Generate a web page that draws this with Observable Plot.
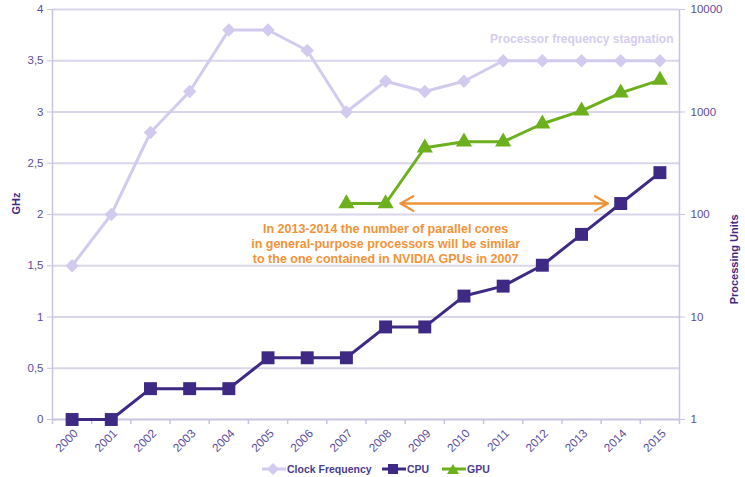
<!DOCTYPE html>
<html><head><meta charset="utf-8">
<script src="https://cdn.jsdelivr.net/npm/d3@7"></script>
<script src="https://cdn.jsdelivr.net/npm/@observablehq/plot@0.6"></script>
<style>
body{margin:0;background:#fff;font-family:"Liberation Sans",Arial,sans-serif;}
#legend{height:22px;position:relative;font-size:10.5px;font-weight:bold;color:#4b3b8f;}
#legend .item{position:absolute;top:6px;display:flex;align-items:center;gap:1px;}
</style></head><body><div id="chart"></div><div id="legend"></div>
<script>
const years = [2000,2001,2002,2003,2004,2005,2006,2007,2008,2009,2010,2011,2012,2013,2014,2015];
const clockGHz = [1.5,2,2.8,3.2,3.8,3.8,3.6,3.0,3.3,3.2,3.3,3.5,3.5,3.5,3.5,3.5];
const cpuUnits = [1,1,2,2,2,4,4,4,8,8,16,20,32,64,128,256];
const gpuYears = [2007,2008,2009,2010,2011,2012,2013,2014,2015];
const gpuUnits = [128,128,448,512,512,768,1024,1536,2048];
const ghzTicks = [0,0.5,1,1.5,2,2.5,3,3.5,4];
const unitTicks = [1,10,100,1000,10000];
const seriesNames = ["Clock Frequency","CPU","GPU"];
const colors = {"Clock Frequency":"#d3cbef","CPU":"#3e2a84","GPU":"#6cb01e"};
const note = "In 2013-2014 the number of parallel cores\nin general-purpose processors will be similar\nto the one contained in NVIDIA GPUs in 2007";
const noteYear = 2008, noteGHz = 1.72;
const arrowFrom = 2008, arrowTo = 2014, arrowUnits = 128;
const stagnation = "Processor frequency stagnation";
const stagnationGHz = 3.71;

const lg = Math.log10;
const clock = years.map((y,i)=>({year:y, v:clockGHz[i]}));
const cpu = years.map((y,i)=>({year:y, v:lg(cpuUnits[i])}));
const gpu = gpuYears.map((y,i)=>({year:y, v:lg(gpuUnits[i])}));
const bounds = d3.range(years.length+1).map(i=>years[0]-0.5+i);
const x0 = bounds[0], x1 = bounds[bounds.length-1];
const tickCol = "#5b4c9e", axisCol = "#c9c3e2";

const chart = Plot.plot({
  width:745, height:455,
  marginLeft:52, marginRight:66, marginTop:9, marginBottom:36,
  style:{fontFamily:"Liberation Sans, Arial, sans-serif", fontSize:"11px", background:"#fff"},
  x:{domain:[x0,x1]},
  y:{domain:[0,4]},
  marks:[
    Plot.ruleY(ghzTicks.slice(1), {stroke:"#dad6ea", strokeWidth:2}),
    Plot.ruleX([x0,x1], {stroke:axisCol, strokeWidth:1.5}),
    Plot.ruleY([0], {stroke:axisCol, strokeWidth:2}),
    Plot.ruleX(bounds, {y1:0, y2:0, insetBottom:-5, stroke:axisCol, strokeWidth:1.5}),
    Plot.axisY({ticks:ghzTicks, tickFormat:d=>String(d).replace(".",","), tickSize:5, tickPadding:4, label:null, stroke:axisCol, fill:tickCol, fontSize:11.5}),
    Plot.axisY({anchor:"right", ticks:unitTicks.map(lg), tickFormat:d=>String(Math.round(10**d)), tickSize:5, tickPadding:6, label:null, stroke:axisCol, fill:tickCol, fontSize:11.5}),
    Plot.axisX({ticks:years, tickFormat:d=>String(d), tickSize:0, tickRotate:-45, tickPadding:12, dx:4, label:null, fill:tickCol, fontSize:11.8}),
    Plot.text(["GHz"], {frameAnchor:"left", rotate:-90, dx:-36, fill:"#3e2a84", fontWeight:"bold", fontSize:11}),
    Plot.text(["Processing Units"], {frameAnchor:"right", rotate:-90, dx:55, fill:"#3e2a84", fontWeight:"bold", fontSize:11}),
    Plot.line(clock, {x:"year", y:"v", stroke:colors["Clock Frequency"], strokeWidth:3}),
    Plot.dot(clock, {x:"year", y:"v", symbol:"diamond2", r:6, fill:colors["Clock Frequency"]}),
    Plot.line(gpu, {x:"year", y:"v", stroke:colors.GPU, strokeWidth:3}),
    Plot.dot(gpu, {x:"year", y:"v", symbol:"triangle", r:6, fill:colors.GPU}),
    Plot.line(cpu, {x:"year", y:"v", stroke:colors.CPU, strokeWidth:3}),
    Plot.dot(cpu, {x:"year", y:"v", symbol:"square", r:7.3, fill:colors.CPU}),
    Plot.arrow([{a:arrowFrom,b:arrowTo}], {x1:"a", x2:"b", y:lg(arrowUnits), insetStart:15, insetEnd:13, stroke:"#f0913a", strokeWidth:2.2, headLength:10}),
    Plot.arrow([{a:arrowTo,b:arrowFrom}], {x1:"a", x2:"b", y:lg(arrowUnits), insetStart:13, insetEnd:15, stroke:"#f0913a", strokeWidth:2.2, headLength:10}),
    Plot.text([note], {x:noteYear, y:noteGHz, text:d=>d, lineHeight:1.22, fill:"#f39237", fontWeight:"bold", fontSize:12.5}),
    Plot.text([stagnation], {x:x1, y:stagnationGHz, text:d=>d, textAnchor:"end", dx:-6, fill:"#d5cdf0", fontWeight:"bold", fontSize:12})
  ]
});
document.getElementById("chart").appendChild(chart);

const legendPos = {"Clock Frequency":262,"CPU":382,"GPU":442};
const sym = {"Clock Frequency":'<path d="M11,2 L17,8 L11,14 L5,8Z"/>', "CPU":'<rect x="6" y="3" width="10" height="10"/>', "GPU":'<path d="M11,3 L17,13 L5,13Z"/>'};
const legend = document.getElementById("legend");
for (const s of seriesNames) {
  const c = colors[s];
  const el = document.createElement("div");
  el.className = "item";
  el.style.left = legendPos[s] + "px";
  el.innerHTML = `<svg width="24" height="16" style="fill:${c}"><line x1="0" x2="24" y1="8" y2="8" stroke="${c}" stroke-width="3"/>${sym[s]}</svg><span>${s}</span>`;
  legend.appendChild(el);
}
</script></body></html>
